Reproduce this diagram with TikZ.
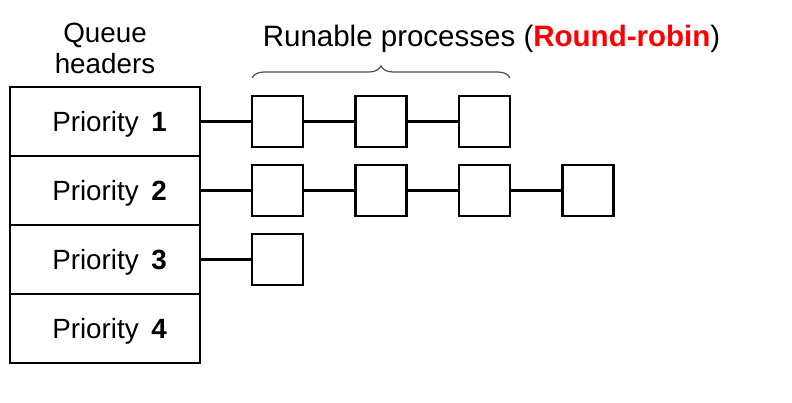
\documentclass[tikz,border=0pt]{standalone}
\usepackage{fontspec}
\setmainfont{Liberation Sans}
\usetikzlibrary{decorations.pathreplacing}
\newcommand{\prio}[1]{Priority\hspace{0.45em}\textbf{#1}}

\begin{document}
\begin{tikzpicture}[x=1pt,y=1pt,line width=2.8pt,
    font=\fontsize{27.8pt}{31pt}\selectfont,
    hdr/.style={draw,minimum width=190pt,minimum height=69pt,inner sep=0pt,text depth=0pt},
    proc/.style={draw,minimum size=51pt,inner sep=0pt}]
      \useasboundingbox (0,0) rectangle (792,-403);

      % queue headers
      \node at (105,-48) [align=center, name=qh] {Queue\\headers};
      \node at (105,-121.5) [hdr, name=p1] {\hspace*{9pt}\prio{1}};
      \node at (105,-190.5) [hdr, name=p2] {\hspace*{9pt}\prio{2}};
      \node at (105,-259.5) [hdr, name=p3] {\hspace*{9pt}\prio{3}};
      \node at (105,-328.5) [hdr, name=p4] {\hspace*{9pt}\prio{4}};

      % runable processes
      \node at (277.5,-121.5) [proc, name=b11] {};
      \node at (381,-121.5) [proc, name=b12] {};
      \node at (484.5,-121.5) [proc, name=b13] {};

      \node at (277.5,-190.5) [proc, name=b21] {};
      \node at (381,-190.5) [proc, name=b22] {};
      \node at (484.5,-190.5) [proc, name=b23] {};
      \node at (588,-190.5) [proc, name=b24] {};

      \node at (277.5,-259.5) [proc, name=b31] {};

      \draw (p1) -- (b11);
      \draw (b11) -- (b12);
      \draw (b12) -- (b13);
      \draw (p2) -- (b21);
      \draw (b21) -- (b22);
      \draw (b22) -- (b23);
      \draw (b23) -- (b24);
      \draw (p3) -- (b31);

      % brace and title
      \coordinate (brl) at (252,-78);
      \coordinate (brr) at (510,-78);
      \draw [decorate, decoration={brace, amplitude=12pt}, line width=1.2pt, black!70] (brl) -- (brr);
      \node at (491.5,-47) [anchor=base, name=title, font=\fontsize{29.5pt}{31pt}\selectfont]
      {Runable processes (\textcolor{red}{\textbf{Round-robin}})};
\end{tikzpicture}
\end{document}
